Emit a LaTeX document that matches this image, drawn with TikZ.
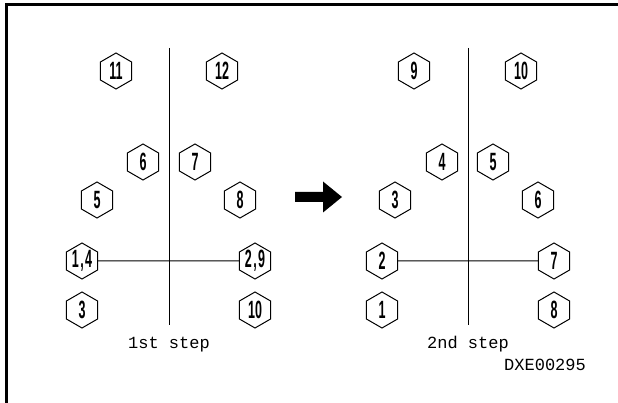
\documentclass[tikz,border=0pt]{standalone}
\usepackage{fontspec}
\newfontfamily\hexfont[FakeStretch=0.5]{Liberation Sans Bold}
\newfontfamily\stepfont{Liberation Mono}
\usetikzlibrary{positioning,shapes.geometric}

\begin{document}
\begin{tikzpicture}[x=1pt,y=-1pt,
			hexnum/.style={
				draw,
				regular polygon,
				regular polygon sides=6,
				shape border rotate=30,
				minimum size=36pt,
				inner sep=0pt,
				line width=1pt,
				font=\hexfont\fontsize{25}{25}\selectfont
			},
			steplabel/.style={
				anchor=base,
				inner sep=0pt,
				font=\stepfont\fontsize{17}{17}\selectfont
			},
			axis/.style={line width=1pt}]
			
			\useasboundingbox (0,0) rectangle (618,403);
			
			% frame
			\coordinate(frameTR) at (618,4.5);
			\coordinate(frameBL) at (6.5,403);
			\draw[line width=2.5pt](frameTR) -| (frameBL);
			
			% 1st step
			\coordinate(ltop) at (169,48);
			\coordinate(lbot) at (169,325);
			
			\node(l11)[hexnum] at (116,71){11};
			\node(l12)[hexnum] at (222,71){12};
			\node(l6)[hexnum] at (143,162){6};
			\node(l7)[hexnum] at (195,162){7};
			\node(l5)[hexnum] at (97,200){5};
			\node(l8)[hexnum] at (240,200){8};
			\node(l14)[hexnum] at (82,261){1\kern1.5pt,\kern1.5pt4};
			\node(l29)[hexnum] at (255,261){2\kern1.5pt,\kern1.5pt9};
			\node(l3)[hexnum] at (82,310){3};
			\node(l10)[hexnum] at (255,310){10};
			
			\draw[axis](ltop)--(lbot);
			\draw[axis](l14)--(l29);
			
			\node(lstep)[steplabel] at (169,348){1st step};
			
			% arrow
			\coordinate(arr) at (318.5,197);
			\fill[shift={(arr)}] (-23.5,-5) -- (4.5,-5) -- (4.5,-15.5) -- (23.5,0)
				-- (4.5,15.5) -- (4.5,5) -- (-23.5,5) -- cycle;
			
			% 2nd step
			\coordinate(rtop) at (468,48);
			\coordinate(rbot) at (468,325);
			
			\node(r9)[hexnum] at (414,71){9};
			\node(r10)[hexnum] at (521,71){10};
			\node(r4)[hexnum] at (442,162){4};
			\node(r5)[hexnum] at (493,162){5};
			\node(r3)[hexnum] at (395,200){3};
			\node(r6)[hexnum] at (538,200){6};
			\node(r2)[hexnum] at (382,261){2};
			\node(r7)[hexnum] at (554,261){7};
			\node(r1)[hexnum] at (382,310){1};
			\node(r8)[hexnum] at (554,310){8};
			
			\draw[axis](rtop)--(rbot);
			\draw[axis](r2)--(r7);
			
			\node(rstep)[steplabel] at (468,348){2nd step};
			
			\node(code)[steplabel] at (545,370){DXE00295};
			
		\end{tikzpicture}
\end{document}
